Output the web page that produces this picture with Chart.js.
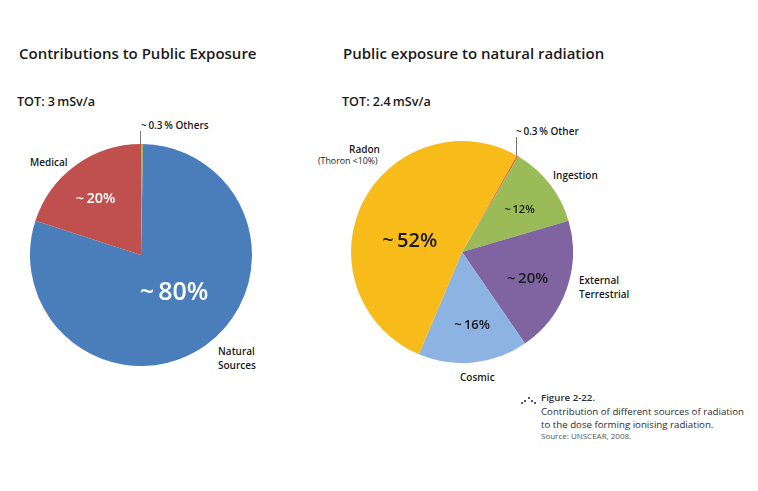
<!DOCTYPE html>
<html><head><meta charset="utf-8">
<script src="https://cdn.jsdelivr.net/npm/chart.js@4.4.0/dist/chart.umd.min.js"></script>
<style>
html,body{margin:0;padding:0;background:#fff;}
#wrap{position:relative;width:758px;height:491px;overflow:hidden;font-family:"Open Sans",Lato,sans-serif;color:#1a1a1a;}
.t{position:absolute;white-space:nowrap;line-height:1;}
.h{font-weight:600;font-size:15px;}
.tot{font-weight:600;font-size:12.6px;}
.lb{font-weight:600;font-size:10px;}
.ln{position:absolute;width:1px;background:#777;}
.d{position:absolute;width:2px;height:2px;border-radius:1px;background:#223;}
canvas{position:absolute;}
</style></head>
<body><div id="wrap">
<div class="t h" style="left:19px;top:46px;">Contributions to Public Exposure</div>
<div class="t h" style="left:343px;top:46px;">Public exposure to natural radiation</div>
<div class="t tot" style="left:17px;top:96px;">TOT: 3&#8201;mSv/a</div>
<div class="t tot" style="left:342px;top:96px;">TOT: 2.4&#8201;mSv/a</div>

<div class="t lb" style="left:141px;top:120px;">~&#8201;0.3&#8201;% Others</div>
<div class="ln" style="left:140px;top:131px;height:13px;"></div>
<div class="t lb" style="left:30px;top:157px;">Medical</div>
<div class="t lb" style="left:218px;top:344px;line-height:14px;">Natural<br>Sources</div>

<div class="t lb" style="left:516px;top:126px;">~&#8201;0.3&#8201;% Other</div>
<div class="ln" style="left:516px;top:137px;height:20px;"></div>
<div class="t lb" style="left:349px;top:144px;">Radon</div>
<div class="t" style="left:318px;top:157px;font-size:8.8px;">(Thoron &lt;10%)</div>
<div class="t lb" style="left:553px;top:170px;">Ingestion</div>
<div class="t lb" style="left:579px;top:273px;line-height:14px;">External<br>Terrestrial</div>
<div class="t lb" style="left:460px;top:372px;">Cosmic</div>

<div class="d" style="left:521px;top:402px;"></div>
<div class="d" style="left:524px;top:400px;"></div>
<div class="d" style="left:528px;top:397px;"></div>
<div class="d" style="left:531px;top:400px;"></div>
<div class="d" style="left:534px;top:402px;"></div>
<div class="t" style="left:541px;top:393px;font-size:9.7px;color:#2b2b33;font-weight:600;">Figure 2-22.</div>
<div class="t" style="left:541px;top:405px;font-size:9.7px;color:#2b2b33;line-height:13px;">Contribution of different sources of radiation<br>to the dose forming ionising radiation.</div>
<div class="t" style="left:541px;top:432px;font-size:8px;color:#555;">Source: UNSCEAR, 2008.</div>

<canvas id="c1" style="left:30px;top:144px;width:222px;height:222px;"></canvas>
<canvas id="c2" style="left:351px;top:141px;width:222px;height:222px;"></canvas>
</div>
<script>
// Left chart data
const leftCategories = ["Others", "Natural Sources", "Medical"];
const leftValues = [0.3, 79.7, 20];
const leftLabels = ["", "~\u200980%", "~\u200920%"];
// Right chart data
const rightCategories = ["Other", "Ingestion", "External Terrestrial", "Cosmic", "Radon"];
const rightValues = [0.3, 12, 20, 16, 52];
const rightLabels = ["", "~\u200912%", "~\u200920%", "~\u200916%", "~\u200952%"];

const leftColors = ["#9BBB59", "#4A7EBB", "#C0504D"];
const rightColors = ["#E0703A", "#9BBB59", "#8064A2", "#8DB3E2", "#F8BC1A"];

// label styles: [radius fraction, angle offset (deg), font size, color, weight]
const leftStyle = [null, [0.45, -6, 25, "#fff", 600], [0.65, -3, 14.5, "#fff", 600]];
const rightStyle = [null, [0.64, 2, 11, "#1a1a1a", 600], [0.64, 3, 15, "#1a1a1a", 600], [0.67, -2, 13, "#1a1a1a", 600], [0.48, -15, 20, "#1a1a1a", 600]];

const sliceLabels = {
  id: "sliceLabels",
  afterDatasetsDraw(chart, args, opts) {
    const ctx = chart.ctx;
    const meta = chart.getDatasetMeta(0);
    meta.data.forEach((arc, i) => {
      const s = opts.styles[i];
      const txt = opts.labels[i];
      if (!s || !txt) return;
      const p = arc.getProps(["x", "y", "startAngle", "endAngle", "outerRadius"], true);
      const a = (p.startAngle + p.endAngle) / 2 + s[1] * Math.PI / 180;
      const r = p.outerRadius * s[0];
      ctx.save();
      ctx.font = s[4] + " " + s[2] + "px 'Open Sans', Lato, sans-serif";
      ctx.fillStyle = s[3];
      ctx.textAlign = "center";
      ctx.textBaseline = "middle";
      ctx.fillText(txt, p.x + Math.cos(a) * r, p.y + Math.sin(a) * r);
      ctx.restore();
    });
  }
};

function makePie(id, cats, vals, cols, labels, styles, rotation) {
  new Chart(document.getElementById(id), {
    type: "pie",
    data: { labels: cats, datasets: [{ data: vals, backgroundColor: cols, borderWidth: 0, hoverOffset: 0 }] },
    options: {
      responsive: false, animation: false, rotation: rotation,
      layout: { padding: 0 },
      plugins: { legend: { display: false }, tooltip: { enabled: false }, sliceLabels: { labels: labels, styles: styles } }
    },
    plugins: [sliceLabels]
  });
}
function sizeCanvas(id){ const c=document.getElementById(id); c.width=222; c.height=222; }
sizeCanvas("c1"); sizeCanvas("c2");
makePie("c1", leftCategories, leftValues, leftColors, leftLabels, leftStyle, 0);
makePie("c2", rightCategories, rightValues, rightColors, rightLabels, rightStyle, 29.5);
</script>
</body></html>
